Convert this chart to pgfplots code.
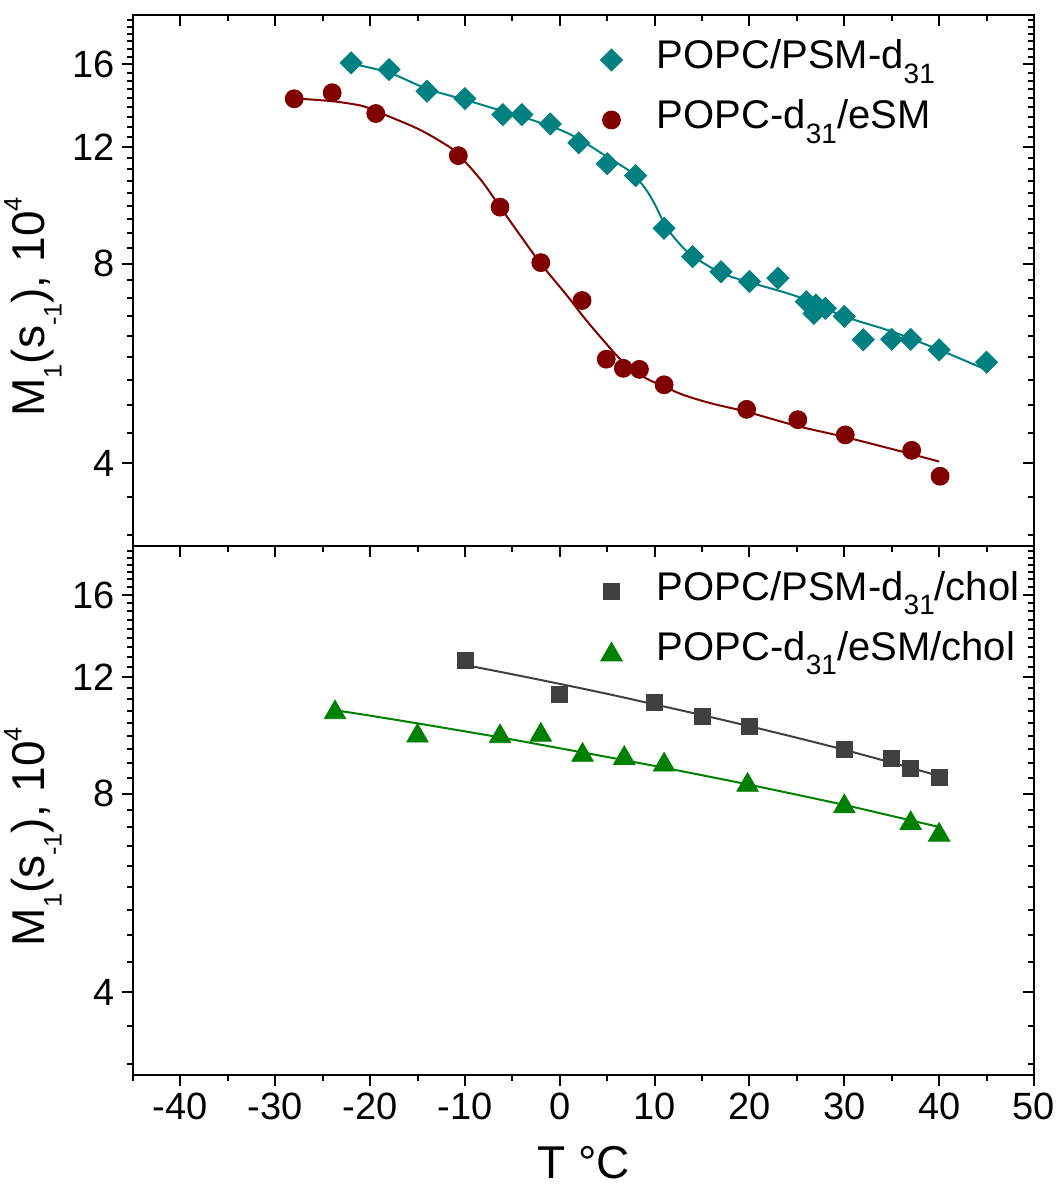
\documentclass[border=0pt]{standalone}
\usepackage{fontspec}
\setmainfont{Liberation Sans}
\usepackage{graphicx}
\usepackage{pgfplots}
\pgfplotsset{compat=1.18}
\definecolor{cteal}{RGB}{0,128,128}
\definecolor{cred}{RGB}{128,0,0}
\definecolor{cgray}{RGB}{64,64,64}
\definecolor{cgreen}{RGB}{0,128,0}
\newcommand\sub[2][0.7]{\raisebox{-0.37em}{\scalebox{#1}{#2}}}
\newcommand\sups[2][0.55]{\raisebox{0.5em}{\scalebox{#1}{#2}}}
\pgfplotsset{
  myBase/.style={scale only axis, width=450.5pt, xmin=-45, xmax=50, ymin=3, ymax=19,
    axis line style={line width=1.1pt, black},
    tick style={black, line width=1pt},
    major tick length=5.5pt, minor tick length=3pt,
    xtick={-40,-30,...,50}, minor xtick={-45,-35,...,45},
    ytick={4,8,12,16},
    minor ytick={3.1111,3.5556,4.4444,4.8889,5.3333,5.7778,6.2222,6.6667,7.1111,7.5556,8.4444,8.8889,9.3333,9.7778,10.2222,10.6667,11.1111,11.5556,12.4444,12.8889,13.3333,13.7778,14.2222,14.6667,15.1111,15.5556,16.4444,16.8889,17.3333,17.7778,18.2222,18.6667}},
  myMain/.style={myBase, xtick pos=bottom, ytick pos=left, tick align=outside,
    xticklabels={-40,-30,-20,-10,0,10,20,30,40,50}, yticklabels={4,8,12,16},
    ticklabel style={font=\fontsize{19}{22}\selectfont},
    ylabel={M\sub[0.55]{1}(s\sub[0.55]{-1}), 10\sups{4}},
    ylabel style={font=\fontsize{23}{27}\selectfont, at={(ticklabel cs:0.45)}, anchor=near ticklabel, inner sep=2pt},
    legend cell align=left,
    legend image code/.code={\path[draw=none,fill=none] (0pt,0pt) -- (30.75pt,0pt);\draw[mark repeat=2,mark phase=2,##1,draw=none] plot coordinates {(0pt,0pt) (8pt,0pt) (24pt,0pt)};},
    legend style={draw=none, fill=none, anchor=north west, inner sep=0pt, outer sep=0pt,
      font=\fontsize{20}{24}\selectfont, row sep=9.5pt,
      nodes={inner sep=0pt, text height=14.5pt, text depth=6pt}}},
  myOver/.style={myBase, xtick pos=top, ytick pos=right, tick align=inside, xticklabels={}, yticklabels={}},
}
\begin{document}
\begin{tikzpicture}
% ---------------- bottom panel ----------------
\begin{axis}[ymode=log, myMain, height=264.5pt, at={(0,0)}, anchor=south west,
  xlabel={T °C}, xlabel style={font=\fontsize{23}{27}\selectfont, inner sep=2pt, yshift=-8pt},
  legend style={at={(0.5133,0.952)}}]
\addplot[cgray, line width=1pt, smooth, forget plot] coordinates {
(-10,12.53) (-5,12.13) (0,11.73) (5,11.33) (10,10.92) (15,10.52) (20,10.12) (25,9.72) (30,9.32) (35,8.91) (40,8.51)};
\addplot[cgreen, line width=1pt, smooth, forget plot] coordinates {
(-23.7,10.70) (-20,10.50) (-15,10.22) (-10,9.94) (-5,9.66) (0,9.37) (5,9.09) (10,8.81) (15,8.53) (20,8.25) (25,7.97) (30,7.69) (35,7.40) (40,7.12)};
\addplot[only marks, mark=square*, mark size=4pt, cgray, mark options={fill=cgray, draw=cgray}] coordinates {
(-10,12.74) (0,11.31) (10,10.98) (15,10.49) (20,10.10) (30,9.34) (35,9.04) (37,8.73) (40,8.46)};
\addlegendentry{POPC/PSM-d\sub{31}/chol}
\addplot[only marks, mark=triangle*, mark size=6.2pt, cgreen, mark options={fill=cgreen, draw=cgreen, yshift=-1.55pt}] coordinates {
(-23.7,10.73) (-15,9.89) (-6.3,9.87) (-2,9.92) (2.4,9.25) (6.8,9.15) (11,8.94) (19.8,8.33) (30,7.73) (37,7.29) (40,7.00)};
\addlegendentry{POPC-d\sub{31}/eSM/chol}
\end{axis}
\begin{axis}[ymode=log, myOver, height=264.5pt, at={(0,0)}, anchor=south west]
\end{axis}
% ---------------- top panel ----------------
\begin{axis}[ymode=log, myMain, height=265.3pt, at={(0,264.5pt)}, anchor=south west,
  xmajorticks=false, xminorticks=false,
  legend style={at={(0.5133,0.954)}}]
\addplot[cteal, line width=1pt, smooth, forget plot] coordinates {
(-22,16.05) (-18,15.55) (-14,14.7) (-10,14.15) (-6,13.6) (-3,13.2) (0,12.75) (2,12.35) (5,11.6) (7.5,11.0) (9,10.4) (10,9.85) (11.2,9.1) (12.7,8.55) (14.1,8.2) (17,7.75) (20,7.5) (25,7.14) (30,6.66) (35,6.32) (40,5.93) (45,5.53)};
\addplot[cred, line width=1pt, smooth, forget plot] coordinates {
(-28,14.22) (-24,14.08) (-21,13.87) (-19.5,13.62) (-15,12.8) (-12,12.1) (-10.7,11.7) (-8.3,10.7) (-6.3,9.75) (-4.1,8.8) (-2,8.0) (0.8,7.15) (2.5,6.65) (4.5,6.15) (6.5,5.72) (9,5.38) (11,5.22) (13,5.07) (16,4.92) (19.7,4.78) (25,4.55) (30,4.38) (35,4.2) (40,4.02)};
\addplot[only marks, mark=square*, mark size=3.9pt, cteal, mark options={rotate=45, fill=cteal, draw=cteal}] coordinates {
(-22,16.09) (-18,15.72) (-14,14.58) (-10,14.21) (-6,13.44) (-4,13.44) (-1,13.01) (2,12.18) (5,11.33) (8,10.87) (11,9.05) (14,8.20) (17,7.78) (20,7.52) (23,7.61) (26,7.01) (26.8,6.73) (27,6.93) (28,6.85) (30,6.66) (32,6.14) (35,6.15) (37,6.15) (40,5.93) (45,5.68)};
\addlegendentry{POPC/PSM-d\sub{31}}
\addplot[only marks, mark=*, mark size=4.5pt, cred, mark options={fill=cred, draw=cred}] coordinates {
(-28,14.2) (-24,14.5) (-19.4,13.49) (-10.7,11.65) (-6.3,9.74) (-2,8.03) (2.35,7.04) (4.9,5.74) (6.7,5.56) (8.4,5.54) (11,5.25) (19.7,4.82) (25.1,4.65) (30.1,4.41) (37.1,4.18) (40.1,3.82)};
\addlegendentry{POPC-d\sub{31}/eSM}
\end{axis}
\begin{axis}[ymode=log, myOver, height=265.3pt, at={(0,264.5pt)}, anchor=south west]
\end{axis}
\path (-66.5pt,-55.65pt) rectangle (463.5pt,537.35pt);
\end{tikzpicture}
\end{document}
